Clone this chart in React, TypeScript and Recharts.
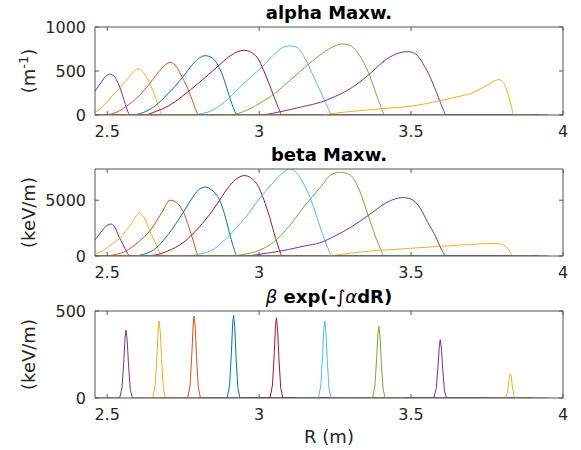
import React from 'react';
import { LineChart, Line, XAxis, YAxis, Label } from 'recharts';

type Pt = [number, number];

const COLORS = ['#7E2F8E', '#EDB120', '#D95319', '#0072BD', '#A2142F', '#4DBEEE', '#77AC30', '#7E2F8E', '#EDB120'];
const R_DOMAIN: [number, number] = [2.46, 4];
const R_TICKS = [2.5, 3, 3.5, 4];
const ALPHA_TICKS = [0, 500, 1000];
const BETA_TICKS = [0, 5000];
const BEXP_TICKS = [0, 500];

// alpha Maxw. (m^-1)
const alpha1: Pt[] = [[2.46, 270], [2.47, 320], [2.48, 370], [2.49, 420], [2.5, 452], [2.509, 463], [2.52, 450], [2.53, 405], [2.54, 330], [2.55, 230], [2.56, 120], [2.568, 40], [2.575, 0], [3.9, 0]];
const alpha2: Pt[] = [[2.46, 30], [2.48, 80], [2.5, 150], [2.52, 230], [2.54, 300], [2.56, 385], [2.58, 465], [2.595, 515], [2.606, 525], [2.62, 480], [2.64, 360], [2.66, 190], [2.672, 70], [2.682, 0], [3.9, 0]];
const alpha3: Pt[] = [[2.46, 0], [2.5, 5], [2.53, 30], [2.56, 90], [2.6, 200], [2.64, 357], [2.68, 530], [2.707, 598], [2.73, 540], [2.745, 440], [2.76, 340], [2.78, 170], [2.795, 30], [2.8, 0], [3.9, 0]];
const alpha4: Pt[] = [[2.46, 0], [2.58, 0], [2.62, 30], [2.66, 110], [2.7, 240], [2.745, 415], [2.78, 570], [2.8, 640], [2.822, 674], [2.845, 650], [2.866, 558], [2.885, 400], [2.905, 180], [2.918, 60], [2.927, 0], [3.9, 0]];
const alpha5: Pt[] = [[2.46, 0], [2.62, 0], [2.66, 40], [2.7, 100], [2.75, 220], [2.8, 360], [2.866, 558], [2.9, 660], [2.93, 720], [2.951, 736], [2.975, 710], [3.0, 620], [3.01, 547], [3.03, 380], [3.05, 200], [3.065, 70], [3.076, 0], [3.92, 0]];
const alpha6: Pt[] = [[2.46, 0], [2.75, 0], [2.8, 10], [2.85, 60], [2.9, 190], [2.95, 360], [3.01, 547], [3.05, 690], [3.08, 770], [3.1, 785], [3.125, 770], [3.15, 650], [3.18, 430], [3.203, 260], [3.225, 90], [3.24, 0], [3.9, 0]];
const alpha7: Pt[] = [[2.46, 0], [2.9, 0], [2.95, 40], [3.0, 130], [3.05, 240], [3.1, 390], [3.15, 540], [3.2, 680], [3.235, 760], [3.274, 808], [3.3, 790], [3.33, 680], [3.36, 480], [3.385, 240], [3.4, 100], [3.413, 0], [3.9, 0]];
const alpha8: Pt[] = [[2.46, 0], [3.0, 0], [3.06, 30], [3.1, 60], [3.15, 100], [3.203, 145], [3.25, 210], [3.3, 300], [3.36, 455], [3.42, 636], [3.46, 705], [3.488, 720], [3.5, 715], [3.52, 680], [3.54, 580], [3.565, 414], [3.59, 200], [3.605, 70], [3.615, 0], [3.95, 0]];
const alpha9: Pt[] = [[2.46, 0], [3.2, 0], [3.25, 20], [3.3, 40], [3.35, 55], [3.4, 70], [3.45, 85], [3.5, 100], [3.55, 130], [3.587, 156], [3.65, 205], [3.7, 250], [3.74, 318], [3.77, 380], [3.788, 402], [3.8, 385], [3.815, 280], [3.83, 100], [3.838, 0], [3.9, 0]];

// beta Maxw. (keV/m)
const beta1: Pt[] = [[2.46, 1450], [2.47, 1800], [2.48, 2150], [2.49, 2500], [2.5, 2750], [2.512, 2870], [2.525, 2600], [2.54, 1650], [2.55, 1150], [2.56, 600], [2.568, 200], [2.575, 0], [3.9, 0]];
const beta2: Pt[] = [[2.46, 150], [2.48, 400], [2.5, 750], [2.52, 1150], [2.54, 1570], [2.56, 2200], [2.58, 2900], [2.595, 3550], [2.606, 3845], [2.62, 3500], [2.64, 2300], [2.66, 1100], [2.672, 350], [2.682, 0], [3.9, 0]];
const beta3: Pt[] = [[2.46, 0], [2.5, 20], [2.53, 150], [2.56, 420], [2.6, 1200], [2.641, 2270], [2.68, 3900], [2.707, 5000], [2.73, 4750], [2.751, 3940], [2.77, 2500], [2.785, 1200], [2.795, 300], [2.8, 0], [3.9, 0]];
const beta4: Pt[] = [[2.46, 0], [2.58, 0], [2.62, 150], [2.66, 700], [2.7, 1900], [2.751, 3940], [2.78, 5200], [2.8, 5900], [2.822, 6180], [2.845, 5900], [2.87, 5000], [2.89, 3400], [2.905, 1800], [2.918, 600], [2.927, 0], [3.9, 0]];
const beta5: Pt[] = [[2.46, 0], [2.62, 0], [2.66, 100], [2.7, 450], [2.75, 1200], [2.8, 2500], [2.85, 4200], [2.87, 5000], [2.9, 6200], [2.93, 7000], [2.951, 7210], [2.975, 6950], [3.0, 6100], [3.01, 5450], [3.03, 3900], [3.05, 2000], [3.065, 700], [3.076, 0], [3.92, 0]];
const beta6: Pt[] = [[2.46, 0], [2.75, 0], [2.8, 150], [2.85, 600], [2.9, 1800], [2.95, 3300], [3.01, 5450], [3.05, 6700], [3.08, 7500], [3.1, 7800], [3.125, 7400], [3.15, 6300], [3.169, 5150], [3.19, 3500], [3.203, 2420], [3.225, 800], [3.24, 0], [3.9, 0]];
const beta7: Pt[] = [[2.46, 0], [2.9, 0], [2.95, 150], [3.0, 500], [3.05, 1300], [3.1, 2700], [3.15, 4500], [3.203, 6200], [3.235, 7250], [3.268, 7510], [3.3, 7250], [3.33, 5900], [3.359, 3630], [3.385, 1600], [3.4, 600], [3.411, 0], [3.9, 0]];
const beta8: Pt[] = [[2.46, 0], [2.95, 0], [3.0, 150], [3.05, 350], [3.1, 600], [3.15, 900], [3.203, 1210], [3.25, 1800], [3.3, 2550], [3.359, 3630], [3.42, 4800], [3.472, 5240], [3.5, 5100], [3.53, 4300], [3.555, 3000], [3.58, 1800], [3.6, 600], [3.615, 0], [3.95, 0]];
const beta9: Pt[] = [[2.46, 0], [3.2, 0], [3.25, 80], [3.3, 250], [3.367, 450], [3.45, 600], [3.53, 750], [3.6, 870], [3.65, 960], [3.7, 1040], [3.763, 1120], [3.79, 1080], [3.81, 900], [3.825, 400], [3.835, 0], [3.9, 0]];

// beta exp(-int alpha dR) (keV/m)
const bexp1: Pt[] = [[2.46, 0], [2.541, 0], [2.549, 60], [2.555, 220], [2.559, 350], [2.562, 390], [2.566, 330], [2.57, 200], [2.576, 50], [2.583, 0], [3.95, 0]];
const bexp2: Pt[] = [[2.6, 0], [2.65, 0], [2.658, 70], [2.664, 250], [2.668, 400], [2.671, 442], [2.675, 375], [2.679, 225], [2.685, 55], [2.692, 0], [3.9, 0]];
const bexp3: Pt[] = [[2.68, 0], [2.765, 0], [2.773, 75], [2.779, 265], [2.783, 425], [2.786, 471], [2.79, 400], [2.794, 240], [2.8, 60], [2.807, 0], [3.9, 0]];
const bexp4: Pt[] = [[2.8, 0], [2.895, 0], [2.903, 75], [2.909, 265], [2.913, 430], [2.916, 475], [2.92, 405], [2.924, 240], [2.93, 60], [2.937, 0], [3.9, 0]];
const bexp5: Pt[] = [[2.95, 0], [3.036, 0], [3.044, 75], [3.05, 260], [3.054, 415], [3.057, 461], [3.061, 390], [3.065, 235], [3.071, 60], [3.078, 0], [3.9, 0]];
const bexp6: Pt[] = [[3.12, 0], [3.195, 0], [3.203, 70], [3.209, 250], [3.213, 400], [3.216, 442], [3.22, 375], [3.224, 225], [3.23, 55], [3.237, 0], [3.9, 0]];
const bexp7: Pt[] = [[3.3, 0], [3.373, 0], [3.381, 65], [3.387, 235], [3.391, 370], [3.394, 413], [3.398, 350], [3.402, 210], [3.408, 50], [3.415, 0], [3.62, 0]];
const bexp8: Pt[] = [[3.48, 0], [3.575, 0], [3.583, 55], [3.589, 190], [3.593, 300], [3.596, 335], [3.6, 285], [3.604, 170], [3.61, 40], [3.617, 0], [3.9, 0]];
const bexp9: Pt[] = [[3.75, 0], [3.81, 0], [3.816, 25], [3.821, 80], [3.824, 125], [3.827, 138], [3.83, 118], [3.833, 70], [3.838, 15], [3.844, 0], [3.9, 0]];

const ALPHA = [alpha1, alpha2, alpha3, alpha4, alpha5, alpha6, alpha7, alpha8, alpha9];
const BETA = [beta1, beta2, beta3, beta4, beta5, beta6, beta7, beta8, beta9];
const BEXP = [bexp1, bexp2, bexp3, bexp4, bexp5, bexp6, bexp7, bexp8, bexp9];

const toRows = (pts: Pt[]) => pts.map(([r, v]) => ({ r, v }));

const INK = '#262626';
const FRAME = '#555555';
const FONT = "'DejaVu Sans', sans-serif";

const tickStyle = { fill: INK, fontSize: 16, fontFamily: FONT };

function Panel({ top, plotH, bottomH, series, yMax, yTicks, title, yLabel, xLabel, smooth }: any) {
  return (
    <div style={{ position: 'absolute', left: 0, top }}>
      <LineChart width={581} height={27 + plotH + bottomH} margin={{ top: 26, right: 17, bottom: 0, left: 0 }}>
        <XAxis xAxisId="b" dataKey="r" type="number" domain={R_DOMAIN} ticks={R_TICKS} allowDataOverflow
          height={bottomH} tickSize={-4} tickMargin={15} stroke={FRAME} tick={tickStyle}
          tickFormatter={(v: number) => String(v)}>
          {xLabel && (
            <Label content={(p: any) => (
              <text x={p.viewBox.x + p.viewBox.width / 2} y={p.viewBox.y + 45} textAnchor="middle"
                fontSize={18} fill={INK} fontFamily={FONT}>{xLabel}</text>
            )} />
          )}
        </XAxis>
        <XAxis xAxisId="t" orientation="top" dataKey="r" type="number" domain={R_DOMAIN} ticks={R_TICKS}
          allowDataOverflow height={1} tickSize={-4} stroke={FRAME} tick={() => <g />}>
          <Label content={(p: any) => (
            <text x={p.viewBox.x + p.viewBox.width / 2} y={p.viewBox.y - 7} textAnchor="middle"
              fontSize={18} fontWeight="bold" fill="#000" fontFamily={FONT}>{title}</text>
          )} />
        </XAxis>
        <YAxis yAxisId="l" type="number" domain={[0, yMax]} ticks={yTicks} allowDataOverflow width={95}
          tickSize={-4} tickMargin={13} stroke={FRAME} tick={tickStyle}>
          <Label content={(p: any) => {
            const cx = 35;
            const cy = p.viewBox.y + p.viewBox.height / 2;
            return (
              <text x={cx} y={cy} transform={`rotate(-90 ${cx} ${cy})`} textAnchor="middle"
                fontSize={18} fill={INK} fontFamily={FONT}>{yLabel}</text>
            );
          }} />
        </YAxis>
        <YAxis yAxisId="r" orientation="right" type="number" domain={[0, yMax]} ticks={yTicks} allowDataOverflow
          width={1} tickSize={-4} stroke={FRAME} tick={() => <g />} />
        {series.map((pts: Pt[], i: number) => (
          <Line key={i} xAxisId="b" yAxisId="l" data={toRows(pts)} dataKey="v" type={smooth ? 'monotone' : 'linear'}
            stroke={COLORS[i]} strokeWidth={1} dot={false} isAnimationActive={false} />
        ))}
      </LineChart>
    </div>
  );
}

export default function App() {
  return (
    <div style={{ position: 'absolute', left: 0, top: 0, width: 581, height: 450, background: '#fff', fontFamily: FONT }}>
      <Panel top={0} plotH={88} bottomH={30} series={ALPHA} yMax={1000} yTicks={ALPHA_TICKS} smooth
        title="alpha Maxw."
        yLabel={<>(m<tspan dy={-7} fontSize={13}>-1</tspan><tspan dy={7}>)</tspan></>} />
      <Panel top={142} plotH={87} bottomH={30} series={BETA} yMax={7800} yTicks={BETA_TICKS} smooth
        title="beta Maxw." yLabel="(keV/m)" />
      <Panel top={284} plotH={87} bottomH={52} series={BEXP} yMax={500} yTicks={BEXP_TICKS}
        title={<><tspan fontStyle="italic" fontWeight="normal">β</tspan> exp(-<tspan fontStyle="italic" fontWeight="normal">∫α</tspan>dR)</>}
        yLabel="(keV/m)" xLabel="R (m)" />
    </div>
  );
}
